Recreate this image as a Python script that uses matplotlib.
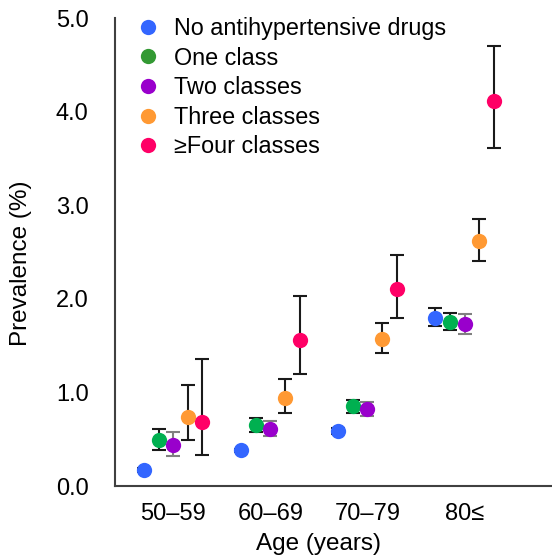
import matplotlib
matplotlib.use("Agg")
import matplotlib.pyplot as plt
from matplotlib.lines import Line2D
import numpy as np

plt.rcParams['font.family'] = ['Liberation Sans', 'DejaVu Sans']

age_groups = ['50–59', '60–69', '70–79', '80≤']
series_names = ['No antihypertensive drugs', 'One class', 'Two classes',
                'Three classes', '≥Four classes']

none_val = [0.17, 0.38, 0.59, 1.80]
none_lo = [0.15, 0.36, 0.56, 1.71]
none_hi = [0.19, 0.40, 0.62, 1.90]

one_val = [0.49, 0.65, 0.85, 1.75]
one_lo = [0.38, 0.58, 0.78, 1.67]
one_hi = [0.61, 0.73, 0.92, 1.85]

two_val = [0.44, 0.61, 0.82, 1.73]
two_lo = [0.32, 0.53, 0.75, 1.62]
two_hi = [0.58, 0.70, 0.90, 1.84]

three_val = [0.74, 0.94, 1.57, 2.62]
three_lo = [0.49, 0.78, 1.42, 2.40]
three_hi = [1.08, 1.14, 1.74, 2.85]

four_val = [0.68, 1.56, 2.10, 4.11]
four_lo = [0.33, 1.20, 1.79, 3.61]
four_hi = [1.36, 2.03, 2.47, 4.70]

colors = ['#3366FF', '#00B050', '#9900CC', '#FF9933', '#FF0066']
legend_colors = ['#3366FF', '#339933', '#9900CC', '#FF9933', '#FF0066']
err_colors = ['#1a1a1a', '#1a1a1a', '#808080', '#1a1a1a', '#1a1a1a']

fig = plt.figure(figsize=(5.52, 5.60), dpi=100)
ax = fig.add_axes([0.2083, 0.1321, 0.7917, 0.8357])

x = np.arange(len(age_groups))
offsets = [-0.30, -0.15, 0.0, 0.15, 0.30]
all_series = [(none_val, none_lo, none_hi), (one_val, one_lo, one_hi),
              (two_val, two_lo, two_hi), (three_val, three_lo, three_hi),
              (four_val, four_lo, four_hi)]

for i, (val, lo, hi) in enumerate(all_series):
    val = np.array(val)
    yerr = [val - np.array(lo), np.array(hi) - val]
    ax.errorbar(x + offsets[i], val, yerr=yerr, fmt='none',
                ecolor=err_colors[i], elinewidth=1.5, capsize=5, capthick=1.5, zorder=2)
    ax.plot(x + offsets[i], val, 'o', color=colors[i], markersize=11,
            markeredgewidth=0, zorder=3)

ax.set_xlim(-0.6, 3.9)
ax.set_ylim(0, 5)
ax.set_yticks([0, 1, 2, 3, 4, 5])
ax.set_yticklabels(['0.0', '1.0', '2.0', '3.0', '4.0', '5.0'])
ax.set_xticks(x)
ax.set_xticklabels(age_groups)
ax.tick_params(axis='y', length=0, pad=19, labelsize=17)
ax.tick_params(axis='x', length=0, pad=12.5, labelsize=17)

for s in ['top', 'right']:
    ax.spines[s].set_visible(False)
for s in ['left', 'bottom']:
    ax.spines[s].set_color('#404040')
    ax.spines[s].set_linewidth(1.5)

ax.set_xlabel('Age (years)', fontsize=17.5)
ax.xaxis.set_label_coords(0.465, -0.10)
ax.set_ylabel('Prevalence (%)', fontsize=17.5)
ax.yaxis.set_label_coords(-0.19, 0.475)

handles = [Line2D([], [], marker='o', linestyle='none', color=c, markersize=11,
                  markeredgewidth=0) for c in legend_colors]
ax.legend(handles, series_names, loc='upper left', bbox_to_anchor=(0.027, 1.022),
          frameon=False, fontsize=16.8, handlelength=1.0, handletextpad=0.62,
          labelspacing=0.28, borderaxespad=0)

fig.savefig('out.png', dpi=100)
